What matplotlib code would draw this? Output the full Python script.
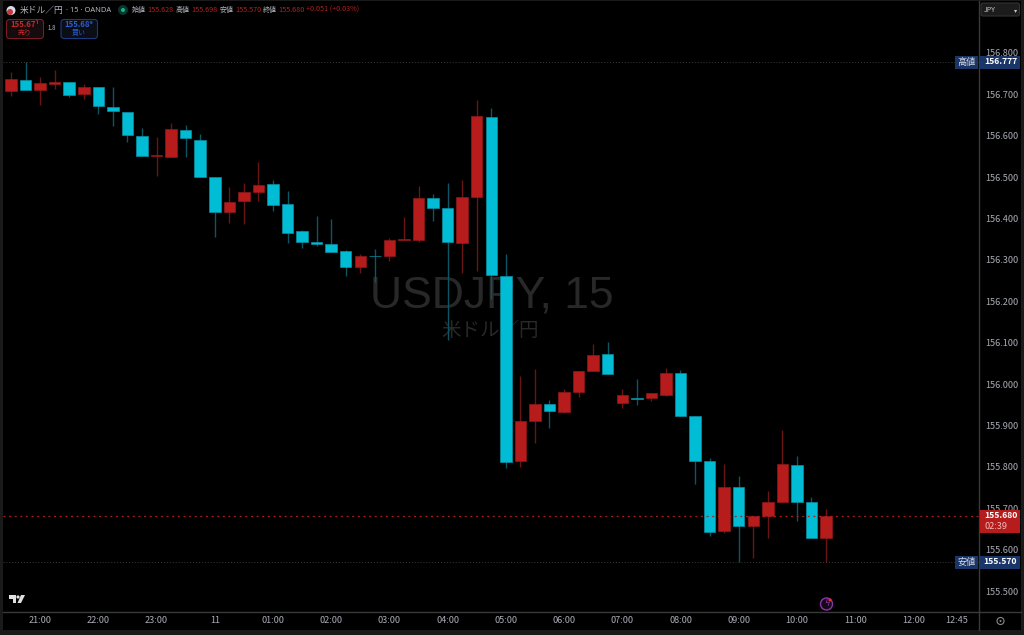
import matplotlib
matplotlib.use("Agg")
import matplotlib.pyplot as plt
from matplotlib.patches import FancyBboxPatch, Rectangle, Circle, Polygon
from matplotlib.lines import Line2D
from matplotlib.transforms import IdentityTransform

plt.rcParams['font.family'] = ['Noto Sans CJK JP', 'DejaVu Sans']

opens = [156.708,156.734,156.710,156.725,156.729,156.700,156.717,156.669,156.657,156.599,156.551,156.548,156.613,156.589,156.500,156.415,156.442,156.464,156.483,156.435,156.369,156.343,156.338,156.321,156.283,156.310,156.309,156.348,156.348,156.449,156.425,156.341,156.452,156.645,156.262,155.814,155.911,155.952,155.932,155.981,156.031,156.072,155.954,155.966,155.966,155.973,156.027,155.923,155.814,155.645,155.751,155.657,155.681,155.715,155.804,155.715,155.628]
highs = [156.753,156.777,156.741,156.758,156.729,156.725,156.717,156.717,156.657,156.618,156.597,156.630,156.625,156.604,156.500,156.476,156.485,156.536,156.493,156.466,156.372,156.406,156.398,156.324,156.314,156.326,156.353,156.403,156.478,156.459,156.485,156.493,156.686,156.667,156.314,156.019,156.036,155.961,155.988,156.031,156.097,156.101,155.988,156.012,155.978,156.039,156.034,155.923,155.821,155.807,155.778,155.681,155.742,155.889,155.826,155.727,155.698]
lows = [156.696,156.711,156.674,156.712,156.693,156.688,156.652,156.623,156.584,156.551,156.502,156.548,156.548,156.500,156.355,156.389,156.386,156.442,156.418,156.341,156.328,156.333,156.319,156.261,156.268,156.246,156.297,156.348,156.343,156.394,156.106,156.268,156.273,156.205,155.797,155.800,155.858,155.894,155.930,155.969,156.031,156.024,155.942,155.949,155.959,155.971,155.923,155.758,155.633,155.640,155.570,155.580,155.628,155.715,155.669,155.628,155.570]
closes = [156.737,156.711,156.727,156.729,156.698,156.717,156.671,156.659,156.601,156.551,156.553,156.616,156.594,156.500,156.415,156.440,156.464,156.481,156.432,156.365,156.343,156.338,156.319,156.283,156.309,156.308,156.348,156.350,156.449,156.425,156.343,156.452,156.647,156.263,155.812,155.911,155.952,155.935,155.981,156.031,156.070,156.024,155.973,155.964,155.978,156.027,155.923,155.814,155.643,155.751,155.657,155.681,155.715,155.807,155.715,155.628,155.680]

price_ticks = [155.5,155.6,155.7,155.8,155.9,156.0,156.1,156.2,156.3,156.4,156.5,156.6,156.7,156.8]
time_labels = ['21:00','22:00','23:00','11','01:00','02:00','03:00','04:00','05:00','06:00','07:00','08:00','09:00','10:00','11:00','12:00','12:45']
time_bars = [2,6,10,14,18,22,26,30,34,38,42,46,50,54,58,62,65]
day_high, day_low, last_price = 156.777, 155.570, 155.680
header_items = [('始値','155.628'),('高値','155.698'),('安値','155.570'),('終値','155.680')]

W, H = 1024, 635
BG_OUT = '#1a1a1a'; RED = '#b71c1c'; CYAN = '#00bcd4'; RED_W = '#6a1414'; CYAN_W = '#0c5663'
GREY = '#a8abb4'; NAVY = '#1a3668'; SEP = '#3a3a3a'
PX = IdentityTransform()

fig = plt.figure(figsize=(W/100, H/100), dpi=100, facecolor=BG_OUT)
fig.add_artist(Rectangle((3, H-630), 1018, 629, fc='black', ec='none', transform=PX, zorder=-5))
L, R, T, B = 3, 978.5, 3, 611.5
ax = fig.add_axes([L/W, 1-B/H, (R-L)/W, (B-T)/H], facecolor='black')
# pixel mapping: x = 11 + 14.554*i ; y = 384 - 414*(p-156)
ax.set_xlim((L-11)/14.554, (R-11)/14.554)
ax.set_ylim(156+(384-B)/414, 156+(384-T)/414)

for s in ['top','left','right','bottom']:
    ax.spines[s].set_visible(False)
fig.add_artist(Line2D([978.5, 978.5], [H-630, H-1], color=SEP, lw=1, transform=PX, zorder=5))
fig.add_artist(Line2D([3, 1021], [H-611.5, H-611.5], color=SEP, lw=1, transform=PX, zorder=5))

ax.yaxis.tick_right()
ax.set_yticks(price_ticks, [f'{p:.3f}' for p in price_ticks])
ax.set_xticks(time_bars, time_labels)
ax.tick_params(axis='y', length=0, pad=4.7, labelsize=6.6, labelcolor=GREY)
ax.tick_params(axis='x', length=0, pad=3.5, labelsize=6.6, labelcolor=GREY)

# watermark
ax.text(0.501, 0.5185, 'USDJPY, 15', transform=ax.transAxes, ha='center', va='center',
        fontsize=32, color='#282828', zorder=0, family=['Liberation Sans','DejaVu Sans'])
ax.text(0.4997, 0.4626, '米ドル／円', transform=ax.transAxes, ha='center', va='center',
        fontsize=14, color='#282828', zorder=0)

# reference lines
ax.axhline(day_high, color='#3c3c3c', lw=0.7, ls=(0,(1,2)), zorder=1)
ax.axhline(day_low, color='#3c3c3c', lw=0.7, ls=(0,(1,2)), zorder=1)
ax.axhline(last_price, color='#b71c1c', lw=0.9, ls=(0,(1.5,3)), zorder=4)

# candles
for i, (o, h, l, c) in enumerate(zip(opens, highs, lows, closes)):
    up = c >= o
    ax.vlines(i, l, h, color=RED_W if up else CYAN_W, lw=1, zorder=2)
    ax.bar(i, abs(c-o), bottom=min(o, c), width=0.79, color=RED if up else CYAN,
           edgecolor='#8f1818' if up else '#0a8fa3', linewidth=0.5, zorder=3)

def ftext(x, y, s, size=7, color=GREY, ha='left', weight='normal', **kw):
    fig.text(x/W, 1-y/H, s, fontsize=size, color=color, ha=ha, va='center', fontweight=weight, zorder=20, **kw)

def frect(x0, y0, x1, y1, fc, ec='none', lw=0.8, rad=0):
    if rad:
        p = FancyBboxPatch((x0, H-y1), x1-x0, y1-y0, boxstyle=f'round,pad=0,rounding_size={rad}',
                           fc=fc, ec=ec, lw=lw, transform=PX, zorder=15)
    else:
        p = Rectangle((x0, H-y1), x1-x0, y1-y0, fc=fc, ec=ec, lw=lw, transform=PX, zorder=15)
    fig.add_artist(p)

# price labels on the right axis
frect(955, 56, 978, 68.5, NAVY); frect(979.5, 56, 1019.5, 68.5, NAVY)
ftext(966.5, 62, '高値', 6.6, '#d8dce6', ha='center')
ftext(1000.5, 62, f'{day_high:.3f}', 6.2, '#ffffff', ha='center', weight='bold')
frect(955, 556, 978, 568.5, NAVY); frect(979.5, 556, 1019.5, 568.5, NAVY)
ftext(966.5, 562, '安値', 6.6, '#d8dce6', ha='center')
ftext(1000.5, 562, f'{day_low:.3f}', 6.2, '#ffffff', ha='center', weight='bold')
frect(979.5, 510, 1019.5, 533, '#b71c1c')
ftext(1000.5, 516, f'{last_price:.3f}', 6.2, '#ffffff', ha='center', weight='bold')
ftext(996, 526.5, '02:39', 6.6, '#f0b8b8', ha='center')

# currency box
frect(981, 3, 1019.5, 16, '#1c1c1c', ec='#333333', rad=2)
ftext(983.5, 9.5, 'JPY', 5, '#c8c8c8')
ftext(1016, 10, '▾', 4.5, '#c8c8c8', ha='center')

# header
ftext(19.5, 10, '米ドル／円', 6.3, '#b2b5be')
ftext(65.5, 10, '· 15 · OANDA', 5.4, '#b2b5be', family=['Noto Sans','DejaVu Sans'])
fig.add_artist(Circle((11, H-10.5), 4.5, fc='#d8d8e8', ec='none', transform=PX, zorder=16))
fig.add_artist(Circle((10, H-12), 3, fc='#c43a3a', ec='none', transform=PX, zorder=17))
fig.add_artist(Circle((123, H-10), 5, fc='#08352c', ec='none', transform=PX, zorder=16))
fig.add_artist(Circle((123, H-10), 2, fc='#18b48c', ec='none', transform=PX, zorder=17))
xs = [132, 176, 219.5, 262.5]
for x, (name, val) in zip(xs, header_items):
    ftext(x, 10, name, 5, '#b2b5be')
    ftext(x+15.5, 10, val, 5.2, '#b22222')
ftext(306, 10, '+0.051 (+0.03%)', 5.2, '#b22222')

# sell/buy buttons
frect(6.5, 19.5, 43.5, 38.5, '#140c0e', ec='#7a1c24', rad=3)
ftext(25, 24.5, '155.67¹', 5.6, '#c62828', ha='center', weight='bold')
ftext(25, 32, '売り', 5, '#c62828', ha='center')
ftext(52, 28.5, '1.8', 4.4, '#b2b5be', ha='center')
frect(61, 19.5, 97.5, 38.5, '#0c0e16', ec='#1d3a80', rad=3)
ftext(79, 24.5, '155.68⁹', 5.6, '#2a5bd0', ha='center', weight='bold')
ftext(79, 32, '買い', 5, '#2a5bd0', ha='center')

# TradingView logo
logo = '#e0e0e0'
fig.add_artist(Polygon([(9, H-595), (16, H-595), (16, H-603), (12.5, H-603), (12.5, H-598.5), (9, H-598.5)],
                       closed=True, fc=logo, ec='none', transform=PX, zorder=16))
fig.add_artist(Circle((18, H-597), 1.6, fc=logo, ec='none', transform=PX, zorder=16))
fig.add_artist(Polygon([(21, H-595), (25, H-595), (21, H-603), (17.5, H-603)],
                       closed=True, fc=logo, ec='none', transform=PX, zorder=16))

# replay / settings marks
fig.add_artist(Circle((826.5, H-604), 6, fc='#14081c', ec='#8e35a8', lw=1, transform=PX, zorder=16))
fig.add_artist(Circle((830, H-600), 1.6, fc='#e03030', ec='none', transform=PX, zorder=17))
ftext(826.5, 604, 'ϟ', 6, '#8e35a8', ha='center')
fig.add_artist(Circle((1000.5, H-621), 3.5, fc='none', ec='#888888', lw=0.8, transform=PX, zorder=16))
fig.add_artist(Circle((1000.5, H-621), 1, fc='#888888', ec='none', transform=PX, zorder=16))

fig.savefig('out.png', dpi=100, facecolor=fig.get_facecolor())
